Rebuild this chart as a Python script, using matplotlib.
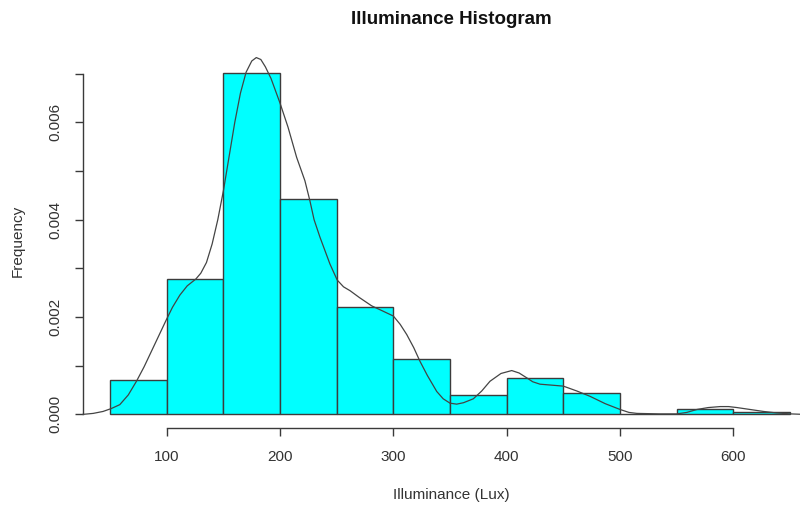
import matplotlib
matplotlib.use("Agg")
import matplotlib.pyplot as plt

plt.rcParams['font.family'] = ['Liberation Sans', 'DejaVu Sans']

# Histogram (density scale)
bin_edges = [50, 100, 150, 200, 250, 300, 350, 400, 450, 500, 550, 600, 650]
bin_density = [0.00070, 0.00278, 0.00702, 0.00443, 0.00221, 0.00113,
               0.00039, 0.00074, 0.00043, 0.00000, 0.00012, 0.00005]

# Kernel density curve
kde_x = [26, 35, 43.7, 51, 58.5, 66, 73.2, 80, 86.5, 93, 99.7, 105, 111.5,
         118, 125.6, 130, 135, 140, 145, 150, 155, 160, 165, 170, 175, 179,
         183, 187, 192, 200, 207, 214.6, 221.9, 226.3, 230, 235.2, 244,
         250.4, 256, 261.8, 270, 280.8, 290, 300, 306, 311.8, 318, 323.5,
         330, 338.3, 344, 350, 355.9, 362, 370.6, 378, 385.3, 395, 404.5,
         411, 417.8, 423, 429.5, 440, 450.1, 462, 473.7, 487, 500.2, 508,
         515, 535, 550.2, 559, 567.9, 578, 588.5, 596, 603.3, 615, 626.8,
         638, 650.4, 662, 674]
kde_y = [0.0, 0.00002, 0.00006, 0.00012, 0.0002, 0.0004, 0.00068, 0.00098,
         0.0013, 0.00162, 0.00195, 0.0022, 0.00245, 0.00264, 0.00278,
         0.0029, 0.00312, 0.0035, 0.004, 0.0046, 0.0053, 0.006, 0.0066,
         0.00703, 0.00726, 0.00733, 0.00729, 0.00714, 0.0069, 0.00639,
         0.0059, 0.00528, 0.0048, 0.00439, 0.004, 0.00364, 0.00309, 0.00276,
         0.00262, 0.00254, 0.0024, 0.00223, 0.00213, 0.00202, 0.00185,
         0.00164, 0.00137, 0.00109, 0.0008, 0.00047, 0.00032, 0.00023,
         0.00021, 0.00024, 0.00032, 0.00048, 0.00068, 0.00084, 0.0009,
         0.00085, 0.00075, 0.00067, 0.00062, 0.0006, 0.00058, 0.00048,
         0.00037, 0.00022, 0.0001, 0.00004, 0.00002, 0.00001, 0.00001,
         0.00004, 0.0001, 0.00014, 0.00016, 0.00016, 0.00014, 0.0001,
         0.00006, 0.00003, 0.00001, 0.0, 0.0]

x_ticks = [100, 200, 300, 400, 500, 600]
y_ticks = [0.000, 0.001, 0.002, 0.003, 0.004, 0.005, 0.006, 0.007]
y_tick_labels = ["0.000", "", "0.002", "", "0.004", "", "0.006", ""]

text_col = '#333333'
line_col = '#3a3a3a'

fig = plt.figure(figsize=(8.0, 5.05), dpi=100)
ax = fig.add_axes([83/800, (505-428)/505, 734/800, (428-60)/505])

widths = [bin_edges[i+1] - bin_edges[i] for i in range(len(bin_density))]
ax.bar(bin_edges[:-1], bin_density, width=widths, align='edge',
       color='#00FFFF', edgecolor='#3c3c3c', linewidth=1.0, zorder=2)
ax.plot(kde_x, kde_y, color='#444444', linewidth=0.9, zorder=3,
        clip_on=False, solid_joinstyle='round')

ax.set_xlim(26, 674)
ax.set_ylim(-0.00028, 0.00728)

for s in ['top', 'right']:
    ax.spines[s].set_visible(False)
ax.spines['left'].set_bounds(0, 0.007)
ax.spines['bottom'].set_bounds(100, 600)
for s in ['left', 'bottom']:
    ax.spines[s].set_color(line_col)
    ax.spines[s].set_linewidth(1.0)

ax.set_xticks(x_ticks)
ax.set_xticklabels([str(v) for v in x_ticks])
ax.set_yticks(y_ticks)
ax.set_yticklabels(y_tick_labels, rotation=90, va='center')
ax.tick_params(axis='both', length=6, width=1.0, color=line_col,
               labelcolor=text_col, labelsize=11)
ax.tick_params(axis='x', pad=10)
ax.tick_params(axis='y', pad=9)

fig.text(451/800, 1 - 20/505, "Illuminance Histogram", ha='center', va='center',
         fontsize=13.5, fontweight='bold', color='#111111')
fig.text(451/800, 1 - 495/505, "Illuminance (Lux)", ha='center', va='center',
         fontsize=11, color=text_col)
fig.text(18/800, 1 - 241/505, "Frequency", ha='center', va='center',
         rotation=90, fontsize=11, color=text_col)

fig.savefig("out.png", dpi=100)
